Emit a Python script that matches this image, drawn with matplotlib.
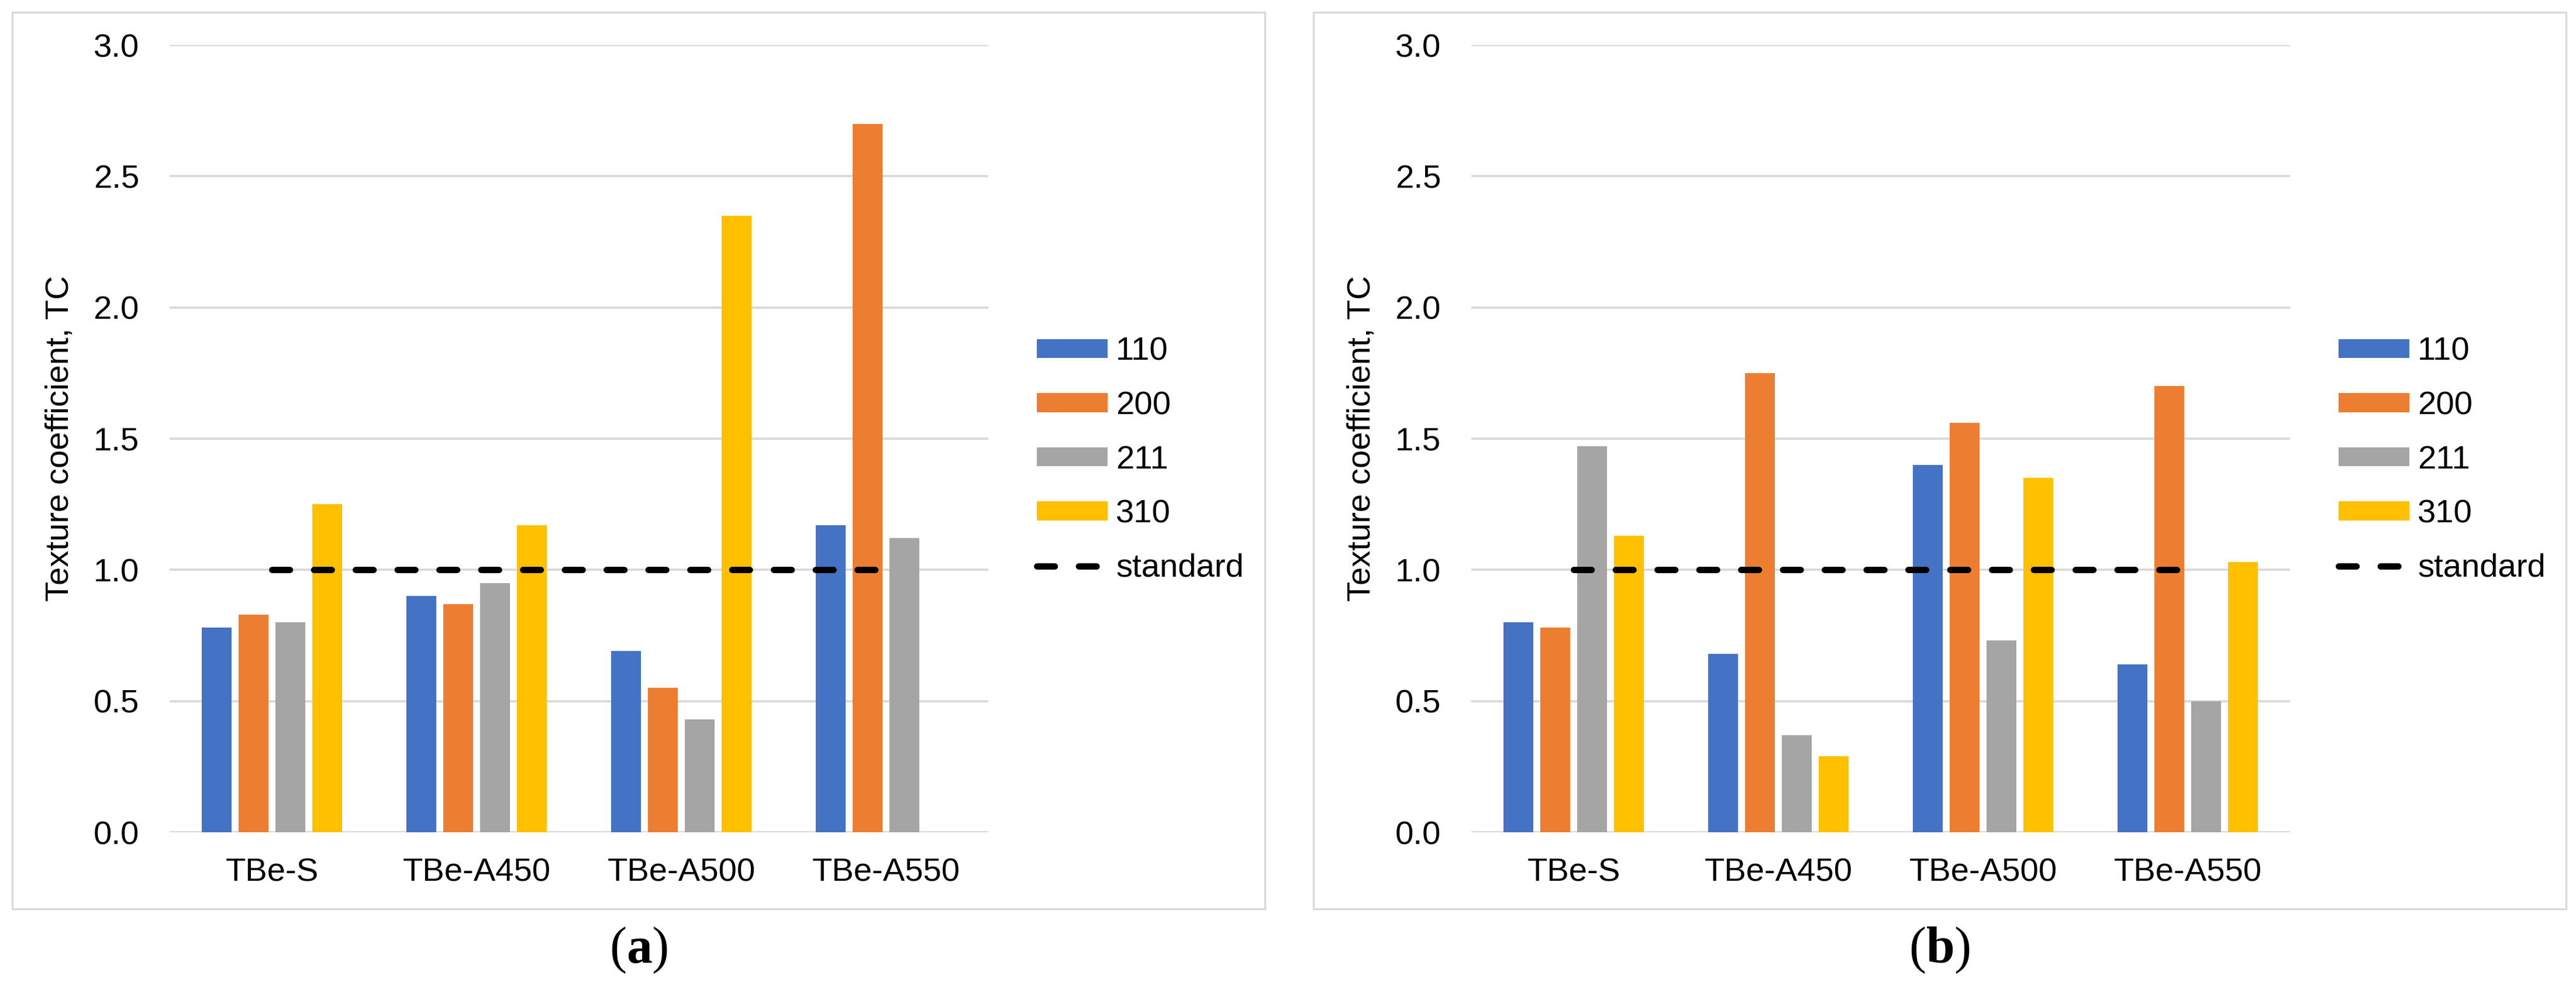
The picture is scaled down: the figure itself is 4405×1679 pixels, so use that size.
import numpy as np
import matplotlib
matplotlib.use("Agg")
import matplotlib.pyplot as plt
from matplotlib.patches import Rectangle

plt.rcParams['font.family'] = ['Liberation Sans', 'DejaVu Sans']
plt.rcParams['mathtext.fontset'] = 'custom'
plt.rcParams['mathtext.rm'] = 'Liberation Serif'
plt.rcParams['mathtext.bf'] = 'Liberation Serif:bold'

# data
samples = ["TBe-S", "TBe-A450", "TBe-A500", "TBe-A550"]
planes = ["110", "200", "211", "310"]
tc_a = {
    "110": [0.78, 0.90, 0.69, 1.17],
    "200": [0.83, 0.87, 0.55, 2.70],
    "211": [0.80, 0.95, 0.43, 1.12],
    "310": [1.25, 1.17, 2.35, np.nan],
}
tc_b = {
    "110": [0.80, 0.68, 1.40, 0.64],
    "200": [0.78, 1.75, 1.56, 1.70],
    "211": [1.47, 0.37, 0.73, 0.50],
    "310": [1.13, 0.29, 1.35, 1.03],
}
standard = [1.0, 1.0, 1.0, 1.0]
yticks = [0.0, 0.5, 1.0, 1.5, 2.0, 2.5, 3.0]

colors = ['#4472C4', '#ED7D31', '#A5A5A5', '#FFC000']
grid_col = '#D9D9D9'
fs = 13.5

W, H = 4405, 1679
fig = plt.figure(figsize=(W / 300, H / 300), dpi=300)

def draw_panel(left_px, data, frame_px, caption):
    # frame around the panel
    fx0, fx1, fy0, fy1 = frame_px
    fig.patches.append(Rectangle((fx0 / W, 1 - fy1 / H), (fx1 - fx0) / W, (fy1 - fy0) / H,
                                 transform=fig.transFigure, fill=False,
                                 edgecolor=grid_col, linewidth=0.8))
    ax = fig.add_axes([left_px / W, 1 - 1423 / H, 1400 / W, (1423 - 77) / H])
    x = np.arange(len(samples))
    width = 0.146
    step = 0.18
    handles = []
    for i, p in enumerate(planes):
        b = ax.bar(x + (i - 1.5) * step, data[p], width, color=colors[i],
                   linewidth=0, label=p, zorder=2)
        handles.append(b)
    line, = ax.plot(x, standard, color='black', linewidth=2.6, dashes=(2.8, 3.8),
                    dash_capstyle='round', label='standard', zorder=3)
    handles.append(line)
    ax.set_xlim(-0.5, len(samples) - 0.5)
    ax.set_ylim(0, 3.0)
    ax.set_yticks(yticks)
    ax.set_yticklabels([f"{t:.1f}" for t in yticks], fontsize=fs)
    ax.set_xticks(x)
    ax.set_xticklabels(samples, fontsize=fs)
    ax.tick_params(axis='y', length=0, pad=12.5)
    ax.tick_params(axis='x', length=0, pad=10.5)
    for s in ax.spines.values():
        s.set_visible(False)
    ax.grid(axis='y', color=grid_col, linewidth=0.9, zorder=0)
    ax.set_axisbelow(True)
    ax.set_ylabel("Texture coefficient, TC", fontsize=fs)
    ax.yaxis.set_label_coords(-0.115, 0.5)
    ax.legend(handles=handles, loc='center left',
              bbox_to_anchor=((left_px + 1483) / W, 1 - 787 / H),
              bbox_transform=fig.transFigure, frameon=False, fontsize=fs,
              borderpad=0, borderaxespad=0, handlelength=2.15, handleheight=0.52,
              handletextpad=0.25, labelspacing=0.72)
    fig.text((fx0 + fx1) / 2 / W, 1 - 1625 / H, caption, fontsize=21,
             ha='center', va='center')
    return ax

draw_panel(290, tc_a, (21, 2163, 21, 1554), r"$(\mathbf{a})$")
draw_panel(2516, tc_b, (2246, 4388, 21, 1554), r"$(\mathbf{b})$")

plt.savefig("out.png", dpi=300)
